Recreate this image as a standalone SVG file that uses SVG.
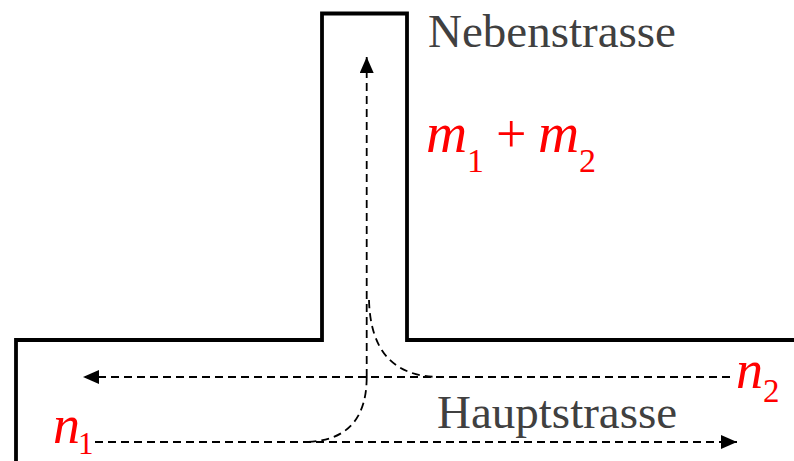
<svg xmlns="http://www.w3.org/2000/svg" width="794" height="461" viewBox="0 0 794 461">
<style>
.road{fill:none;stroke:#000;stroke-width:3.8;stroke-linejoin:miter}
.dash{fill:none;stroke:#000;stroke-width:1.8;stroke-dasharray:8 5}
.lbl{font-family:"Liberation Serif","Times New Roman",serif;font-size:47px;fill:#404040}
.math{font-family:"Liberation Serif","Times New Roman",serif;fill:#ff0000}
.it{font-style:italic}
</style>
<defs>
<marker id="ah" viewBox="0 0 16 14" refX="16" refY="7" markerWidth="16" markerHeight="14" markerUnits="userSpaceOnUse" orient="auto">
<path d="M0,0 L16,7 L0,14 Z" fill="#000"/>
</marker>
</defs>
<rect width="794" height="461" fill="#fff"/>
<g id="roads">
<path class="road" d="M16,461 L16,340 L322,340 L322,13.5 L407,13.5 L407,340 L794,340"/>
</g>
<g id="connectors">
<line class="dash" x1="366.7" y1="377" x2="366.7" y2="57" marker-end="url(#ah)"/>
<line class="dash" x1="730" y1="377" x2="83" y2="377" marker-end="url(#ah)"/>
<line class="dash" x1="95" y1="442" x2="737" y2="442" marker-end="url(#ah)"/>
<path class="dash" d="M366.7,377 Q366.7,442 303,442"/>
<path class="dash" d="M369,300 Q371,377 440,377"/>
</g>
<g id="label-neben"><text class="lbl" x="428" y="47">Nebenstrasse</text></g>
<g id="label-haupt"><text class="lbl" x="437" y="428" font-size="48">Hauptstrasse</text></g>
<g id="label-m">
<text class="math" y="152"><tspan class="it" x="426" font-size="57">m</tspan><tspan x="467" y="172" font-size="34">1</tspan><tspan x="496" y="152" font-size="54">+</tspan><tspan class="it" x="538" font-size="57">m</tspan><tspan x="579" y="172" font-size="34">2</tspan></text>
</g>
<g id="label-n1">
<text class="math" y="443"><tspan class="it" x="53" font-size="54">n</tspan><tspan x="78" y="454" font-size="31">1</tspan></text>
</g>
<g id="label-n2">
<text class="math" y="388"><tspan class="it" x="736" font-size="54">n</tspan><tspan x="763" y="402" font-size="33">2</tspan></text>
</g>
</svg>
